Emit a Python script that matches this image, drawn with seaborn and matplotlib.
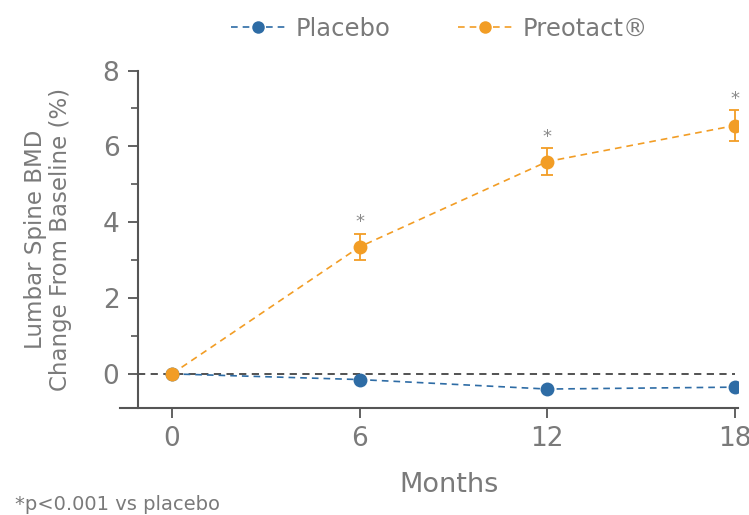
import numpy as np
import pandas as pd
import matplotlib.pyplot as plt
import seaborn as sns

# data
months = [0, 6, 12, 18]
placebo = [0.0, -0.15, -0.40, -0.35]
preotact = [0.0, 3.35, 5.60, 6.55]
preotact_err = [0.0, 0.35, 0.35, 0.40]
signif_months = [6, 12, 18]

blue = '#2e6ca5'
orange = '#f29d25'
grey = '#7a7a7a'

sns.set_theme(style="white")
plt.rcParams['font.family'] = ['DejaVu Sans']

df = pd.DataFrame({
    'Months': months * 2,
    'Change': placebo + preotact,
    'Group': ['Placebo'] * 4 + ['Preotact\u00ae'] * 4,
})

fig = plt.figure(figsize=(7.49, 5.15), dpi=100)
ax = fig.add_axes([120 / 749, 107 / 515, 618 / 749, 345 / 515])

# reference line at zero
ax.hlines(0, -1.1, 18, colors='#444444', linestyles=(0, (4, 3)), linewidth=1.3, zorder=1)

sns.lineplot(data=df, x='Months', y='Change', hue='Group',
             palette=[blue, orange], marker='o', markersize=10,
             markeredgewidth=0, linestyle=(0, (4, 3)), linewidth=1.2,
             ax=ax, zorder=3)

ax.errorbar(months[1:], preotact[1:], yerr=preotact_err[1:], fmt='none',
            ecolor=orange, elinewidth=1.3, capsize=4, capthick=1.3, zorder=2)

for m in signif_months:
    i = months.index(m)
    ax.text(m, preotact[i] + preotact_err[i] + 0.3, '*', ha='center', va='center',
            fontsize=13, color='#8a8a8a')

ax.set_xlim(-1.66, 18.1)
ax.set_ylim(-0.9, 8.2)
ax.set_xticks(months)
ax.set_yticks([0, 2, 4, 6, 8])
ax.set_yticks([1, 3, 5, 7], minor=True)

for s in ['top', 'right']:
    ax.spines[s].set_visible(False)
ax.spines['left'].set_position(('data', -1.1))
ax.spines['left'].set_bounds(-0.9, 8)
ax.spines['bottom'].set_position(('data', -0.9))
for s in ['left', 'bottom']:
    ax.spines[s].set_color('#555555')
    ax.spines[s].set_linewidth(1.5)

ax.tick_params(axis='both', which='major', direction='out', length=7, width=1.3,
               color='#555555', labelsize=19, labelcolor=grey, pad=6)
ax.tick_params(axis='y', which='minor', direction='out', length=5, width=1.2,
               color='#555555', left=True)
ax.tick_params(axis='x', bottom=True)
ax.tick_params(axis='y', left=True)

ax.set_xlabel('Months', fontsize=19.5, color=grey)
ax.xaxis.set_label_coords(0.532, -0.185)
ax.set_ylabel('Lumbar Spine BMD\nChange From Baseline (%)', fontsize=16.5,
              color=grey, linespacing=1.15)
ax.yaxis.set_label_coords(-0.077, 0.49)

handles, labels = ax.get_legend_handles_labels()
for h in handles:
    h.set_markersize(9)
leg = fig.legend(handles, labels, loc='upper center', bbox_to_anchor=(0.587, 1.01),
                 ncol=2, frameon=False, fontsize=17.5, handlelength=2.2,
                 handletextpad=0.45, columnspacing=2.8, labelcolor=grey)
ax.get_legend().remove()

fig.text(0.02, 0.01, '*p<0.001 vs placebo', fontsize=14, color=grey)

fig.savefig('out.png', dpi=100)
